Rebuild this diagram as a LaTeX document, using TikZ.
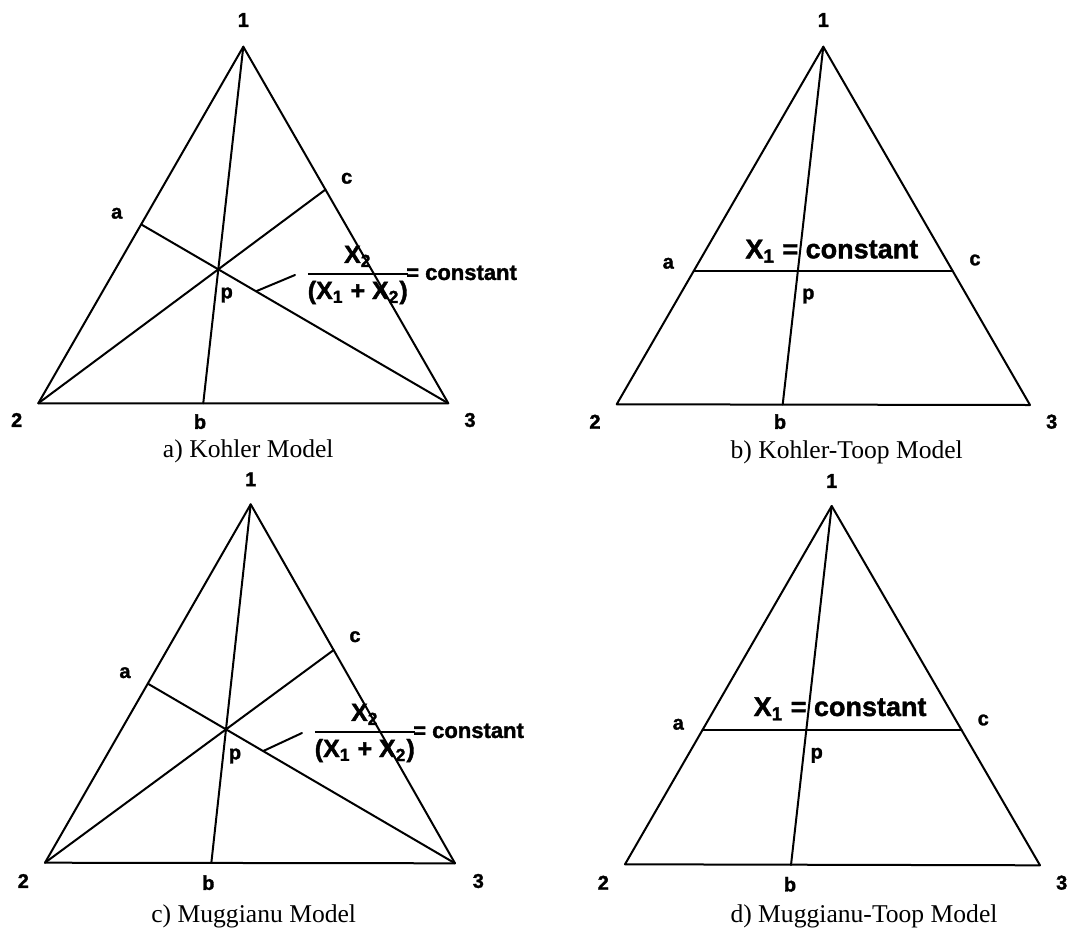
\documentclass[tikz,border=0pt]{standalone}
\usepackage{amsmath}
\usepackage{fontspec}
\setmainfont{Liberation Serif}
\newfontfamily\lblfont[BoldFont={Liberation Sans Bold}, BoldFeatures={FakeBold=1.5}]{Liberation Sans}
\usepackage{tikz}
\tikzstyle{sideline} = [line width=1pt, line join=round, line cap=round]
\tikzstyle{ptlabel} = [inner sep=0pt, font=\lblfont\bfseries\fontsize{10}{11}\selectfont]
\tikzstyle{eqlabel} = [inner sep=0pt, anchor=west, font=\lblfont\bfseries\fontsize{12.5}{14}\selectfont]
\tikzstyle{toplabel} = [inner sep=0pt, anchor=base west, font=\lblfont\bfseries\fontsize{13.5}{15}\selectfont]
\tikzstyle{modelcap} = [inner sep=0pt, anchor=base, font=\fontsize{12.8}{15}\selectfont]
\newcommand{\ratiolabel}{$\genfrac{}{}{1pt}{0}{\text{X\textsubscript{2}}}{\text{(X\textsubscript{1} + X\textsubscript{2})}}$\kern-5pt{\fontsize{11}{12}\selectfont\ = constant}}

\begin{document}
\begin{tikzpicture}[x=0.5pt, y=-0.5pt]
    \useasboundingbox (0,0) rectangle (1089,933);

    % a) Kohler
    \coordinate (k1) at (243.3,46.7);
    \coordinate (k2) at (38.3,403.3);
    \coordinate (k3) at (448.3,403.3);
    \coordinate (kp) at (218.3,269.3);
    \coordinate (ka) at (intersection of k3--kp and k1--k2);
    \coordinate (kb) at (intersection of k1--kp and k2--k3);
    \coordinate (kc) at (intersection of k2--kp and k1--k3);
    \coordinate (kq) at (256.7,291);
    \draw [sideline] (k1) -- (k2) -- (k3) -- cycle;
    \draw [sideline] (k1) -- (kb);
    \draw [sideline] (k2) -- (kc);
    \draw [sideline] (k3) -- (ka);
    \node (kl1) [ptlabel] at (243.3,20) {1};
    \node (kl2) [ptlabel] at (16.7,420) {2};
    \node (kl3) [ptlabel] at (470,420) {3};
    \node (kla) [ptlabel] at (116.7,213.3) {a};
    \node (klb) [ptlabel] at (200,421.7) {b};
    \node (klc) [ptlabel] at (346.7,178.3) {c};
    \node (klp) [ptlabel] at (226.7,295) {p};
    \node (kfrac) [eqlabel] at (305,275) {\ratiolabel};
    \draw [sideline] (kq) -- ([xshift=-5pt]kfrac.west);
    \node (kcap) [modelcap] at (248.3,457) {a) Kohler Model};

    % b) Kohler-Toop
    \coordinate (kt1) at (823.3,46.7);
    \coordinate (kt2) at (616.7,404.3);
    \coordinate (kt3) at (1030,405);
    \coordinate (kta) at (693.9,270.7);
    \coordinate (ktc) at (952.5,270.7);
    \coordinate (ktb) at (782.7,404.5);
    \coordinate (ktp) at (intersection of kt1--ktb and kta--ktc);
    \draw [sideline] (kt1) -- (kt2) -- (kt3) -- cycle;
    \draw [sideline] (kt1) -- (ktb);
    \draw [sideline] (kta) -- (ktc);
    \node (ktl1) [ptlabel] at (823.3,20) {1};
    \node (ktl2) [ptlabel] at (595,421.7) {2};
    \node (ktl3) [ptlabel] at (1051.7,421.7) {3};
    \node (ktla) [ptlabel] at (668.3,263.3) {a};
    \node (ktlb) [ptlabel] at (780,421.7) {b};
    \node (ktlc) [ptlabel] at (975,260) {c};
    \node (ktlp) [ptlabel] at (808.3,296) {p};
    \node (ktx) [toplabel] at (745,258.3) {X\textsubscript{1} = constant};
    \node (ktcap) [modelcap] at (846.7,458.3) {b) Kohler-Toop Model};

    % c) Muggianu
    \coordinate (m1) at (250.7,504.3);
    \coordinate (m2) at (45,862.7);
    \coordinate (m3) at (455,863.3);
    \coordinate (mp) at (226,729.3);
    \coordinate (ma) at (intersection of m3--mp and m1--m2);
    \coordinate (mb) at (intersection of m1--mp and m2--m3);
    \coordinate (mc) at (intersection of m2--mp and m1--m3);
    \coordinate (mq) at (263.3,751);
    \draw [sideline] (m1) -- (m2) -- (m3) -- cycle;
    \draw [sideline] (m1) -- (mb);
    \draw [sideline] (m2) -- (mc);
    \draw [sideline] (m3) -- (ma);
    \node (ml1) [ptlabel] at (250.7,479.3) {1};
    \node (ml2) [ptlabel] at (23.3,881) {2};
    \node (ml3) [ptlabel] at (478.3,881) {3};
    \node (mla) [ptlabel] at (125,672.7) {a};
    \node (mlb) [ptlabel] at (208.3,882.7) {b};
    \node (mlc) [ptlabel] at (355,636.7) {c};
    \node (mlp) [ptlabel] at (235,756) {p};
    \node (mfrac) [eqlabel] at (312,733) {\ratiolabel};
    \draw [sideline] (mq) -- ([xshift=-5pt]mfrac.west);
    \node (mcap) [modelcap] at (253.7,922.7) {c) Muggianu Model};

    % d) Muggianu-Toop
    \coordinate (mt1) at (831.7,506);
    \coordinate (mt2) at (625,864.3);
    \coordinate (mt3) at (1040,865.3);
    \coordinate (mta) at (702.3,730.3);
    \coordinate (mtc) at (961.7,730.3);
    \coordinate (mtb) at (791,865);
    \coordinate (mtp) at (intersection of mt1--mtb and mta--mtc);
    \draw [sideline] (mt1) -- (mt2) -- (mt3) -- cycle;
    \draw [sideline] (mt1) -- (mtb);
    \draw [sideline] (mta) -- (mtc);
    \node (mtl1) [ptlabel] at (831.7,481) {1};
    \node (mtl2) [ptlabel] at (603.3,882.7) {2};
    \node (mtl3) [ptlabel] at (1061.7,882.7) {3};
    \node (mtla) [ptlabel] at (678.3,724.3) {a};
    \node (mtlb) [ptlabel] at (790,884.3) {b};
    \node (mtlc) [ptlabel] at (983.3,720) {c};
    \node (mtlp) [ptlabel] at (816.7,755.3) {p};
    \node (mtx) [toplabel] at (753.3,716) {X\textsubscript{1} = constant};
    \node (mtcap) [modelcap] at (864,922.7) {d) Muggianu-Toop Model};
\end{tikzpicture}
\end{document}
